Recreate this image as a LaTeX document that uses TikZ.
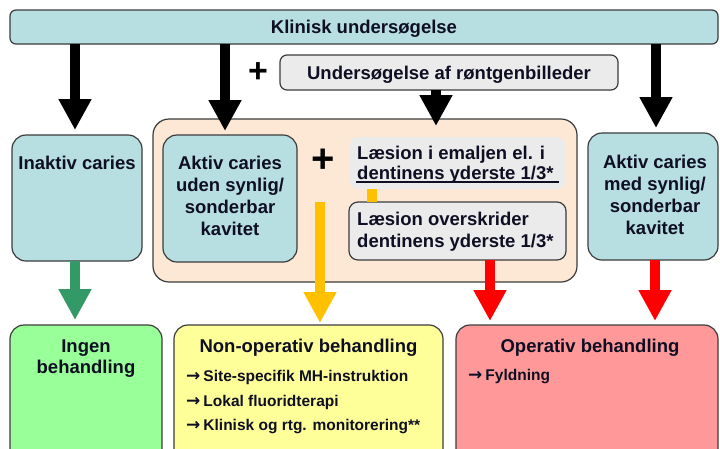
\documentclass[tikz,border=0pt]{standalone}
\usepackage{fontspec}
\setmainfont{Liberation Sans}
\newfontfamily\arrfont{DejaVu Sans}
\usetikzlibrary{arrows.meta}
\definecolor{tealbox}{RGB}{183,222,225}
\definecolor{peach}{RGB}{253,232,214}
\definecolor{graybox}{RGB}{235,235,235}
\definecolor{greenbox}{RGB}{153,255,153}
\definecolor{yellowbox}{RGB}{255,255,153}
\definecolor{redbox}{RGB}{255,153,153}
\definecolor{greenarr}{RGB}{51,153,102}
\definecolor{orangearr}{RGB}{255,192,0}
\definecolor{redarr}{RGB}{255,0,0}
\definecolor{bord}{RGB}{60,60,60}
\definecolor{txt}{RGB}{15,15,35}
\newcommand{\bul}{{\arrfont\fontsize{17}{17}\selectfont\bfseries →}\hspace{3pt}}
\begin{document}
\begin{tikzpicture}[x=1pt,y=-1pt,
  box/.style={draw=bord, line width=1.2pt, rounded corners=14pt, outer sep=0pt, inner sep=0pt},
  main/.style={text=txt, font=\fontsize{18.5}{22}\selectfont\bfseries},
  smalltxt/.style={text=txt, font=\fontsize{15.5}{18}\selectfont\bfseries, anchor=west, inner sep=0pt},
  bigarrow/.style={line width=10pt, -{Triangle[length=31pt,width=31pt]}},
]
\clip (0,0) rectangle (720,448);
\fill[white] (0,0) rectangle (720,448);

% boxes
\node[box, fill=tealbox, rounded corners=6pt, minimum width=708, minimum height=34, main, text depth=0pt] (top) at (364,27) {Klinisk undersøgelse};
\node[box, fill=graybox, rounded corners=7pt, minimum width=338, minimum height=35, main, text depth=0pt] (roent) at (449,72.5) {Undersøgelse af røntgenbilleder};
\node[text=black, font=\fontsize{34}{34}\selectfont\bfseries, inner sep=0pt] (plus1) at (258,73) {+};

\node[box, fill=tealbox, minimum width=130, minimum height=126] (inaktiv) at (77,198) {};
\node[main, inner sep=0pt] (tinaktiv) at (77,163) {Inaktiv caries};

\node[box, fill=peach, rounded corners=16pt, minimum width=424, minimum height=163] (orange) at (365,200.5) {};
\node[box, fill=tealbox, minimum width=134, minimum height=127] (aktivuden) at (230,198.5) {};
\node[main, align=center, inner sep=0pt] (taktivuden) at (230,195.5) {Aktiv caries\\uden synlig/\\sonderbar\\kavitet};
\node[text=black, font=\fontsize{40}{40}\selectfont\bfseries, inner sep=0pt] (plus2) at (323,161) {+};
\node[fill=graybox, rounded corners=8pt, minimum width=215, minimum height=52, inner sep=0pt] (laesion1) at (457.5,163) {};
\node[main, anchor=west, align=left, inner sep=0pt, font=\fontsize{18.5}{20}\selectfont\bfseries] (tlaesion1) at (357,164.5) {Læsion i emaljen el. i\\dentinens yderste 1/3*};
\draw[line width=1.4pt, txt] (356,182) -- (559,182);
\node[box, fill=graybox, rounded corners=9pt, minimum width=217, minimum height=58] (overskrider) at (457.5,231) {};
\node[main, anchor=west, align=left, inner sep=0pt] (toverskrider) at (357,232) {Læsion overskrider\\dentinens yderste 1/3*};

\node[box, fill=tealbox, minimum width=130, minimum height=127] (aktivmed) at (653,196.5) {};
\node[main, align=center, inner sep=0pt] (taktivmed) at (655,195) {Aktiv caries\\med synlig/\\sonderbar\\kavitet};

\node[box, fill=greenbox, minimum width=152, minimum height=145] (ingen) at (86,397.5) {};
\node[main, align=center, inner sep=0pt, font=\fontsize{18.5}{21}\selectfont\bfseries] (tingen) at (86,358.5) {Ingen\\behandling};

\node[box, fill=yellowbox, minimum width=269, minimum height=145] (nonop) at (308.5,397.5) {};
\node[main, inner sep=0pt] (tnonop) at (308.5,348) {Non-operativ behandling};
\node[smalltxt] (b1) at (186,377) {\bul Site-specifik MH-instruktion};
\node[smalltxt] (b2) at (186,402) {\bul Lokal fluoridterapi};
\node[smalltxt] (b3) at (186,427) {\bul Klinisk og rtg. monitorering**};

\node[box, fill=redbox, minimum width=262, minimum height=145] (operativ) at (587,397.5) {};
\node[main, inner sep=0pt] (toperativ) at (590,348) {Operativ behandling};
\node[smalltxt] (b4) at (468,377) {\bul Fyldning};

% arrows
\coordinate (a1s) at (75,44);
\coordinate (a2s) at (225,44);
\coordinate (a3s) at (436,90);
\coordinate (a3e) at (436,126);
\coordinate (a4s) at (656,44);
\coordinate (oas) at (320,202);
\coordinate (obs) at (372,189);
\coordinate (obe) at (372,201.5);
\coordinate (r1s) at (490,260);
\coordinate (r2s) at (655,260);

\draw[bigarrow, black, shorten >=5pt] (a1s) -- (a1s |- inaktiv.north);
\draw[bigarrow, black, shorten >=4pt] (a2s) -- (a2s |- aktivuden.north);
\draw[bigarrow, black] (a3s) -- (a3e);
\draw[bigarrow, black, shorten >=5pt] (a4s) -- (a4s |- aktivmed.north);
\draw[bigarrow, greenarr, shorten >=5pt] (inaktiv.south -| a1s) -- (a1s |- ingen.north);
\draw[bigarrow, orangearr, shorten >=2pt] (oas) -- (oas |- nonop.north);
\draw[line width=10pt, orangearr] (obs) -- (obe);
\draw[bigarrow, redarr, shorten >=4pt] (r1s) -- (r1s |- operativ.north);
\draw[bigarrow, redarr, shorten >=4pt] (r2s) -- (r2s |- operativ.north);
\end{tikzpicture}
\end{document}
